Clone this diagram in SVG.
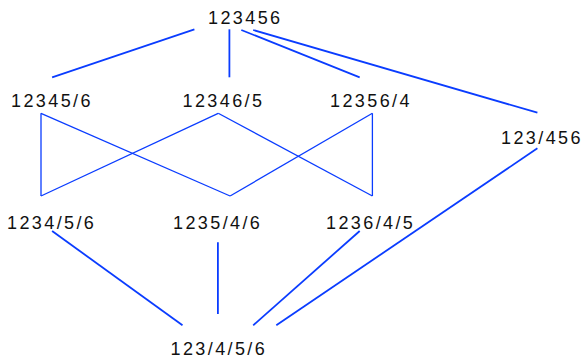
<svg xmlns="http://www.w3.org/2000/svg" width="584" height="358" viewBox="0 0 584 358">
<style>
  text { font-family: "Liberation Sans", Arial, sans-serif; font-size: 18px; letter-spacing: 2.4px; fill: #111; }
  .e { stroke: #0a3cff; stroke-width: 1.8; fill: none; stroke-linecap: butt; }
  .t { stroke: #0a3cff; stroke-width: 1.3; fill: none; }
</style>
<rect width="584" height="358" fill="#fff"/>
<g id="connectors">
  <line class="e" x1="194.4" y1="29.3" x2="52.1" y2="77.3"/>
  <line class="e" x1="229.4" y1="29.3" x2="229.4" y2="77.3"/>
  <line class="e" x1="241.3" y1="30" x2="359.7" y2="77.3"/>
  <line class="e" x1="253.2" y1="30" x2="537.4" y2="112.7"/>
  <line class="t" x1="41" y1="113.3" x2="41" y2="196"/>
  <line class="t" x1="41" y1="113.3" x2="230.1" y2="196"/>
  <line class="t" x1="41" y1="196" x2="218.2" y2="113.3"/>
  <line class="t" x1="218.2" y1="113.3" x2="372.4" y2="196"/>
  <line class="t" x1="230.1" y1="196" x2="372.4" y2="113.3"/>
  <line class="t" x1="372.4" y1="113.3" x2="372.4" y2="196"/>
  <line class="e" x1="52.1" y1="231" x2="182.5" y2="325.3"/>
  <line class="e" x1="217.9" y1="242.3" x2="217.9" y2="314"/>
  <line class="e" x1="359.7" y1="231" x2="253.2" y2="325.3"/>
  <line class="e" x1="537.4" y1="148.3" x2="276.3" y2="325.3"/>
</g>
<g id="n123456"><text x="208" y="24">123456</text></g>
<g id="n12345-6"><text x="11" y="107">12345/6</text></g>
<g id="n12346-5"><text x="182.5" y="107">12346/5</text></g>
<g id="n12356-4"><text x="330" y="107">12356/4</text></g>
<g id="n123-456"><text x="501" y="143.5">123/456</text></g>
<g id="n1234-5-6"><text x="7" y="229">1234/5/6</text></g>
<g id="n1235-4-6"><text x="173" y="229">1235/4/6</text></g>
<g id="n1236-4-5"><text x="326" y="229">1236/4/5</text></g>
<g id="n123-4-5-6"><text x="170.5" y="355">123/4/5/6</text></g>
</svg>
